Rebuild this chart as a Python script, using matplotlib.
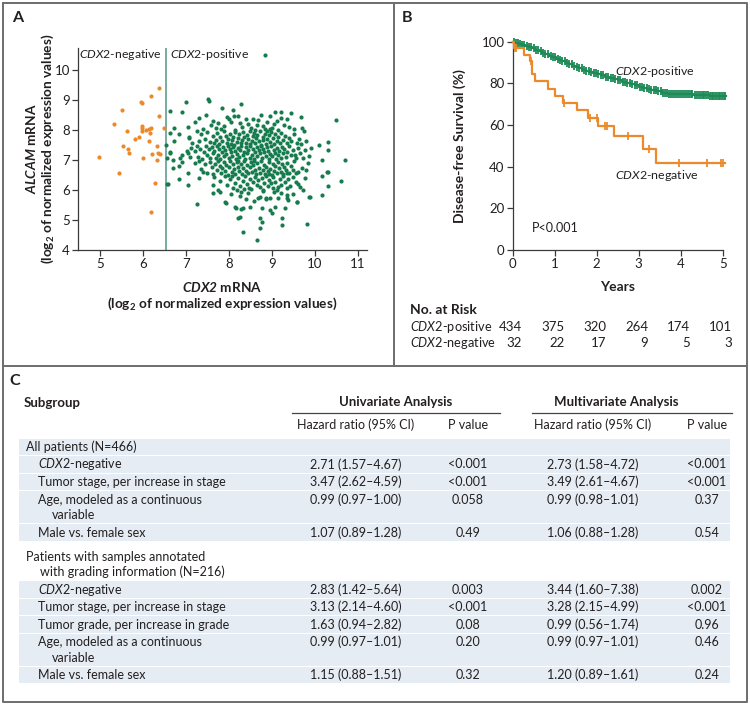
import numpy as np
import matplotlib.pyplot as plt
from matplotlib.patches import Rectangle
from matplotlib.transforms import offset_copy

plt.rcParams['font.family'] = ['Lato', 'DejaVu Sans']
plt.rcParams['mathtext.fontset'] = 'custom'
plt.rcParams['mathtext.rm'] = 'Lato'
plt.rcParams['mathtext.it'] = 'Lato:italic'
plt.rcParams['mathtext.bf'] = 'Lato:bold'
plt.rcParams['mathtext.bfit'] = 'Lato:bold:italic'

# ---- panel A: CDX2 vs ALCAM expression ----
cdx2_cutoff = 6.53

neg_pts = [(6.38, 9.39), (6.18, 9.14), (5.95, 8.94), (5.97, 8.90), (5.52, 8.67), (6.38, 8.48),
           (5.33, 8.21), (5.99, 8.13), (5.97, 8.07), (6.18, 8.06), (6.14, 8.02), (6.08, 8.00),
           (5.62, 7.98), (6.49, 8.05), (5.91, 7.78), (5.81, 7.69), (6.16, 7.89), (6.15, 7.63),
           (6.33, 7.48), (5.54, 7.48), (5.66, 7.37), (5.67, 7.22), (4.99, 7.11), (6.01, 7.06),
           (6.22, 7.20), (6.36, 7.22), (6.40, 7.20), (6.33, 6.99), (5.45, 6.57), (6.28, 6.22),
           (6.20, 5.28), (5.98, 7.95)]

pos_pts = [
    # y >= 8.5
    (8.83, 10.50), (7.52, 9.02), (7.54, 8.97), (7.01, 8.92), (8.29, 8.86), (7.84, 8.72), (8.10, 8.67),
    (6.63, 8.63), (6.90, 8.61), (9.07, 8.59), (9.22, 8.60), (9.45, 8.58), (7.46, 8.50), (8.74, 8.50),
    (8.12, 8.48), (8.21, 8.47), (9.67, 8.44),
    # 8.0 - 8.5
    (8.56, 8.37), (9.34, 8.36), (10.48, 8.33), (7.95, 8.42), (8.95, 8.45), (7.20, 8.25), (7.75, 8.22),
    (8.05, 8.28), (8.45, 8.20), (8.88, 8.25), (9.12, 8.30), (7.62, 8.31), (8.65, 8.18), (7.05, 8.11),
    (7.70, 8.08), (7.88, 8.14), (8.30, 8.10), (8.52, 8.05), (8.78, 8.12), (8.83, 8.02), (9.00, 8.08),
    (9.28, 8.15), (9.70, 8.06), (9.52, 8.03), (8.15, 8.01), (7.40, 8.04), (8.40, 8.38), (9.20, 8.40),
    (8.00, 8.35), (7.30, 8.40), (8.68, 8.32), (9.05, 8.20), (9.40, 8.10), (8.25, 8.22), (7.82, 8.03),
    (8.95, 8.02), (8.60, 8.00), (9.15, 8.00), (7.58, 8.15), (6.72, 8.05),
    # 7.5 - 8.0
    (6.63, 7.91), (6.84, 7.86), (7.08, 7.78), (7.08, 7.72), (6.53, 7.51), (6.73, 7.62), (9.75, 7.95),
    (10.30, 7.61), (10.09, 7.50), (7.25, 7.95), (7.35, 7.85), (7.45, 7.70), (7.50, 7.92), (7.55, 7.60),
    (7.62, 7.80), (7.65, 7.55), (7.70, 7.68), (7.72, 7.90), (7.78, 7.52), (7.80, 7.75), (7.85, 7.62),
    (7.88, 7.95), (7.92, 7.80), (7.95, 7.58), (7.98, 7.70), (8.02, 7.88), (8.05, 7.52), (8.08, 7.65),
    (8.10, 7.78), (8.14, 7.94), (8.18, 7.60), (8.20, 7.72), (8.24, 7.85), (8.28, 7.55), (8.30, 7.66),
    (8.33, 7.92), (8.36, 7.75), (8.40, 7.58), (8.42, 7.84), (8.45, 7.70), (8.48, 7.96), (8.50, 7.52),
    (8.53, 7.64), (8.55, 7.80), (8.58, 7.90), (8.60, 7.56), (8.63, 7.72), (8.66, 7.84), (8.70, 7.62),
    (8.72, 7.95), (8.75, 7.50), (8.78, 7.76), (8.80, 7.66), (8.83, 7.88), (8.86, 7.54), (8.88, 7.70),
    (8.92, 7.82), (8.95, 7.60), (8.98, 7.92), (9.02, 7.72), (9.05, 7.52), (9.08, 7.85), (9.12, 7.64),
    (9.15, 7.78), (9.18, 7.55), (9.22, 7.90), (9.25, 7.68), (9.30, 7.80), (9.35, 7.58), (9.40, 7.72),
    (9.45, 7.62), (9.50, 7.85), (9.58, 7.55), (9.62, 7.70), (9.68, 7.52), (9.80, 7.64), (7.15, 7.55),
    (7.30, 7.62), (8.88, 7.98), (8.12, 7.50),
    # 7.0 - 7.5
    (6.63, 7.27), (6.64, 7.22), (6.70, 7.00), (6.86, 7.06), (6.90, 7.17), (7.05, 7.22), (7.09, 7.11),
    (6.55, 7.05), (10.29, 7.33), (10.69, 7.00), (10.17, 7.00), (9.76, 7.33), (9.71, 7.06), (9.53, 7.17),
    (7.20, 7.30), (7.25, 7.45), (7.28, 7.10), (7.33, 7.38), (7.38, 7.02), (7.42, 7.25), (7.46, 7.48),
    (7.50, 7.15), (7.53, 7.35), (7.57, 7.05), (7.60, 7.42), (7.63, 7.22), (7.66, 7.30), (7.70, 7.08),
    (7.72, 7.46), (7.75, 7.18), (7.78, 7.36), (7.80, 7.02), (7.83, 7.28), (7.86, 7.44), (7.88, 7.12),
    (7.91, 7.32), (7.94, 7.20), (7.97, 7.48), (8.00, 7.05), (8.02, 7.38), (8.05, 7.25), (8.08, 7.12),
    (8.10, 7.44), (8.13, 7.30), (8.16, 7.02), (8.18, 7.20), (8.21, 7.40), (8.24, 7.10), (8.26, 7.34),
    (8.29, 7.48), (8.32, 7.16), (8.34, 7.26), (8.37, 7.04), (8.40, 7.42), (8.42, 7.22), (8.45, 7.32),
    (8.48, 7.08), (8.50, 7.46), (8.53, 7.18), (8.56, 7.36), (8.58, 7.02), (8.61, 7.28), (8.64, 7.44),
    (8.66, 7.12), (8.69, 7.34), (8.72, 7.22), (8.74, 7.48), (8.77, 7.06), (8.80, 7.38), (8.82, 7.26),
    (8.85, 7.14), (8.88, 7.42), (8.90, 7.30), (8.93, 7.04), (8.96, 7.20), (8.98, 7.46), (9.01, 7.12),
    (9.04, 7.34), (9.06, 7.24), (9.09, 7.02), (9.12, 7.40), (9.14, 7.16), (9.17, 7.30), (9.20, 7.08),
    (9.23, 7.44), (9.26, 7.22), (9.29, 7.36), (9.32, 7.10), (9.36, 7.28), (9.40, 7.45), (9.44, 7.15),
    (9.48, 7.32), (9.55, 7.05), (9.60, 7.40), (9.65, 7.22), (9.85, 7.12), (9.90, 7.40), (7.12, 7.40),
    (7.02, 7.30),
    # 6.5 - 7.0
    (6.92, 6.94), (6.70, 6.72), (7.21, 6.89), (7.40, 6.61), (6.85, 6.80), (7.05, 6.55), (10.28, 6.59),
    (10.15, 6.48), (9.84, 6.89), (9.61, 6.61), (9.69, 6.74), (9.80, 6.67), (10.30, 6.61),
    (7.30, 6.95), (7.35, 6.70), (7.45, 6.85), (7.50, 6.58), (7.55, 6.92), (7.60, 6.75), (7.64, 6.52),
    (7.68, 6.88), (7.72, 6.65), (7.75, 6.98), (7.79, 6.80), (7.82, 6.56), (7.85, 6.72), (7.88, 6.94),
    (7.91, 6.62), (7.94, 6.84), (7.97, 6.50), (8.00, 6.76), (8.03, 6.96), (8.06, 6.60), (8.09, 6.86),
    (8.12, 6.70), (8.15, 6.54), (8.18, 6.92), (8.21, 6.78), (8.24, 6.62), (8.27, 6.88), (8.30, 6.52),
    (8.33, 6.72), (8.36, 6.98), (8.39, 6.64), (8.42, 6.84), (8.45, 6.56), (8.48, 6.76), (8.51, 6.94),
    (8.54, 6.60), (8.57, 6.82), (8.60, 6.68), (8.63, 6.52), (8.66, 6.90), (8.69, 6.74), (8.72, 6.58),
    (8.75, 6.96), (8.78, 6.66), (8.81, 6.84), (8.84, 6.54), (8.87, 6.78), (8.90, 6.62), (8.93, 6.92),
    (8.96, 6.70), (8.99, 6.50), (9.02, 6.86), (9.05, 6.64), (9.08, 6.80), (9.11, 6.56), (9.14, 6.94),
    (9.17, 6.72), (9.20, 6.60), (9.23, 6.88), (9.26, 6.52), (9.29, 6.76), (9.32, 6.66), (9.36, 6.90),
    (9.40, 6.58), (9.44, 6.80), (9.48, 6.68), (9.52, 6.95), (9.56, 6.55), (9.35, 6.55), (8.20, 6.98),
    (8.58, 6.98), (8.92, 6.52),
    # 6.0 - 6.5
    (6.59, 6.20), (6.55, 6.21), (6.84, 6.37), (7.04, 6.16), (7.63, 6.17), (7.30, 6.40), (10.61, 6.31),
    (10.30, 6.13), (9.61, 6.19), (9.65, 6.11), (9.71, 6.00), (9.76, 6.39), (8.10, 6.08), (8.18, 6.00),
    (8.64, 6.17), (8.79, 6.00), (9.03, 6.06), (9.11, 6.00), (9.14, 6.11), (8.52, 6.02), (7.80, 6.30),
    (7.90, 6.45), (7.95, 6.15), (8.02, 6.35), (8.08, 6.48), (8.15, 6.22), (8.22, 6.40), (8.26, 6.12),
    (8.32, 6.30), (8.38, 6.46), (8.42, 6.20), (8.46, 6.06), (8.50, 6.36), (8.55, 6.25), (8.60, 6.44),
    (8.68, 6.32), (8.72, 6.10), (8.76, 6.40), (8.82, 6.24), (8.86, 6.46), (8.90, 6.14), (8.94, 6.34),
    (8.98, 6.22), (9.02, 6.42), (9.07, 6.28), (9.18, 6.38), (9.22, 6.18), (9.26, 6.46), (9.30, 6.26),
    (9.38, 6.35), (9.42, 6.12), (9.48, 6.42), (9.55, 6.25), (7.65, 6.42), (8.35, 6.04), (9.34, 6.05),
    # 5.5 - 6.0
    (7.63, 5.89), (7.75, 6.00), (7.79, 5.94), (7.93, 5.58), (7.25, 5.52), (7.90, 5.59), (8.25, 5.80),
    (8.29, 5.94), (8.68, 5.72), (8.72, 5.78), (8.87, 5.72), (8.95, 5.74), (9.14, 5.72), (9.34, 5.72),
    (9.37, 5.67), (9.22, 5.89), (9.34, 5.83), (9.57, 5.61), (9.86, 5.78), (10.15, 5.83), (9.59, 5.59),
    (8.87, 5.69), (8.45, 5.90), (8.58, 5.62), (8.05, 5.85), (9.05, 5.92), (8.40, 5.70), (9.48, 5.85),
    (9.88, 5.78), (8.80, 5.95),
    # 5.0 - 5.5
    (8.14, 5.44), (8.16, 5.41), (8.33, 5.39), (8.48, 5.44), (8.76, 5.41), (9.07, 5.44), (9.30, 5.39),
    (8.29, 5.36), (8.95, 5.33), (8.99, 5.22), (8.21, 5.08), (8.25, 5.11), (8.73, 5.06), (9.24, 5.08),
    # below 5
    (8.77, 4.94), (8.72, 4.72), (8.66, 4.33), (8.33, 4.61), (9.24, 4.83), (9.82, 4.86),
]

# ---- panel B: Kaplan-Meier ----
pos_times = [0.06, 0.14, 0.22, 0.3, 0.38, 0.46, 0.54, 0.62, 0.7, 0.78, 0.86, 0.94, 1.02, 1.1, 1.18,
             1.26, 1.34, 1.42, 1.5, 1.58, 1.66, 1.74, 1.82, 1.9, 2.0, 2.1, 2.2, 2.3, 2.4, 2.5, 2.6,
             2.7, 2.8, 2.9, 3.0, 3.1, 3.2, 3.3, 3.42, 3.55, 3.7, 3.9, 4.3, 4.7]
pos_surv = [99.5, 99.0, 98.5, 98.0, 97.4, 96.8, 96.1, 95.4, 94.7, 94.0, 93.3, 92.6, 91.9, 91.2, 90.5,
            89.8, 89.1, 88.4, 87.8, 87.2, 86.6, 86.0, 85.5, 85.0, 84.4, 83.8, 83.2, 82.6, 82.0, 81.4,
            80.8, 80.2, 79.6, 79.0, 78.4, 77.8, 77.3, 76.8, 76.2, 75.6, 75.1, 74.7, 74.3, 74.0]
pos_censor = [0.03, 0.08, 0.12, 0.17, 0.22, 0.27, 0.33, 0.38, 0.44, 0.5, 0.56, 0.61, 0.67, 0.72, 0.78,
              0.84, 0.9, 0.95, 1.01, 1.07, 1.12, 1.18, 1.24, 1.3, 1.35, 1.41, 1.47, 1.52, 1.58, 1.64,
              1.7, 1.75, 1.81, 1.87, 1.93, 1.98, 2.04, 2.1, 2.16, 2.21, 2.27, 2.33, 2.39, 2.44, 2.5,
              2.56, 2.62, 2.68, 2.73, 2.79, 2.85, 2.9, 2.96, 3.02, 3.08, 3.13, 3.19, 3.25, 3.3, 3.36,
              3.41, 3.46, 3.52, 3.57, 3.62, 3.67, 3.72, 3.76, 3.81, 3.86, 3.9, 3.95, 4.0, 4.05, 4.1,
              4.15, 4.2, 4.24, 4.28, 4.33, 4.38, 4.43, 4.48, 4.52, 4.56, 4.6, 4.65, 4.7, 4.74, 4.78,
              4.82, 4.86, 4.9, 4.94, 4.98, 5.02, 5.06]
pos_end = 5.08

neg_times = [0.02, 0.27, 0.41, 0.47, 0.52, 0.85, 1.0, 1.19, 1.52, 1.8, 2.03, 2.4, 3.1, 3.42]
neg_surv = [97.0, 93.8, 90.6, 84.4, 81.0, 77.4, 74.0, 70.6, 67.0, 63.4, 59.6, 54.6, 48.6, 41.6]
neg_censor = [0.05, 0.09, 0.44, 1.23, 1.84, 2.01, 2.2, 2.24, 2.75, 3.25, 3.97, 4.62, 4.95, 5.0]
neg_end = 5.05

risk_years = [0, 1, 2, 3, 4, 5]
risk_pos = [434, 375, 320, 264, 174, 101]
risk_neg = [32, 22, 17, 9, 5, 3]

# ---- panel C: Cox table ----
row_labels = [('All patients (N=466)',), ('$\\mathit{CDX2}$-negative',),
              ('Tumor stage, per increase in stage',), ('Age, modeled as a continuous', 'variable'),
              ('Male vs. female sex',),
              ('Patients with samples annotated', 'with grading information (N=216)'),
              ('$\\mathit{CDX2}$-negative',), ('Tumor stage, per increase in stage',),
              ('Tumor grade, per increase in grade',), ('Age, modeled as a continuous', 'variable'),
              ('Male vs. female sex',)]
row_is_group = [True, False, False, False, False, True, False, False, False, False, False]
uni_hr = ['', '2.71 (1.57\u20134.67)', '3.47 (2.62\u20134.59)', '0.99 (0.97\u20131.00)', '1.07 (0.89\u20131.28)',
          '', '2.83 (1.42\u20135.64)', '3.13 (2.14\u20134.60)', '1.63 (0.94\u20132.82)', '0.99 (0.97\u20131.01)',
          '1.15 (0.88\u20131.51)']
uni_p = ['', '<0.001', '<0.001', '0.058', '0.49', '', '0.003', '<0.001', '0.08', '0.20', '0.32']
multi_hr = ['', '2.73 (1.58\u20134.72)', '3.49 (2.61\u20134.67)', '0.99 (0.98\u20131.01)', '1.06 (0.88\u20131.28)',
            '', '3.44 (1.60\u20137.38)', '3.28 (2.15\u20134.99)', '0.99 (0.56\u20131.74)', '0.99 (0.97\u20131.01)',
            '1.20 (0.89\u20131.61)']
multi_p = ['', '<0.001', '<0.001', '0.37', '0.54', '', '0.002', '<0.001', '0.96', '0.46', '0.24']

green = '#177c4d'
green_km = '#1d8a57'
orange = '#ec8a2b'
ink = '#231f20'
frame = '#6d6d6d'
shade = '#e5ecf3'

W, H = 750, 706
fig = plt.figure(figsize=(W / 100, H / 100), dpi=100)


def box(left, top, right, bottom):
    return [left / W, 1 - bottom / H, (right - left) / W, (bottom - top) / H]


# overlay in pixel coordinates for frames, labels and the table
ov = fig.add_axes([0, 0, 1, 1])
ov.set_xlim(0, W)
ov.set_ylim(H, 0)
ov.axis('off')
ov.plot([3, 747, 747, 3, 3], [3, 3, 702, 702, 3], color=frame, lw=1.4)
ov.plot([3, 747], [366, 366], color=frame, lw=1.4)
ov.plot([394, 394], [3, 366], color=frame, lw=1.4)

ov.text(12, 18, 'A', fontsize=11.5, fontweight='bold', va='center', color=ink)
ov.text(402, 18, 'B', fontsize=11.5, fontweight='bold', va='center', color=ink)
ov.text(9, 381, 'C', fontsize=11.5, fontweight='bold', va='center', color=ink)

# ---- panel A ----
axA = fig.add_axes(box(78.3, 48.3, 366.7, 250))
neg = np.array(neg_pts)
pos = np.array(pos_pts)
axA.scatter(neg[:, 0], neg[:, 1], s=9, color=orange, lw=0, zorder=3)
axA.scatter(pos[:, 0], pos[:, 1], s=9, color=green, lw=0, zorder=3)
axA.axvline(cdx2_cutoff, color='#5f9f8f', lw=1.2, zorder=2)
axA.set_xlim(4.5, 11.2)
axA.set_ylim(4, 10.72)
axA.set_xticks(range(5, 12))
axA.set_yticks(range(4, 11))
axA.text(6.44, 10.52, '$\\mathit{CDX2}$-negative', ha='right', va='center', fontsize=8.8, color=ink)
axA.text(6.64, 10.52, '$\\mathit{CDX2}$-positive', ha='left', va='center', fontsize=8.8, color=ink)

ov.text(222.5, 287, '$\\mathbfit{CDX2}$ mRNA', ha='center', va='center', fontsize=9.8,
        fontweight='bold', color=ink)
ov.text(222.5, 304, '(log$_\\mathbf{2}$ of normalized expression values)', ha='center', va='center',
        fontsize=9.8, fontweight='bold', color=ink)
ov.text(31, 149, '$\\mathbfit{ALCAM}$ mRNA', ha='center', va='center', rotation=90, fontsize=9.8,
        fontweight='bold', color=ink)
ov.text(47.5, 149, '(log$_\\mathbf{2}$ of normalized expression values)', ha='center', va='center',
        rotation=90, fontsize=9.8, fontweight='bold', color=ink)

# ---- panel B ----
axB = fig.add_axes(box(512.7, 41.7, 726.9, 250))
axB.set_xlim(0, 5.1)
axB.set_ylim(0, 100)
axB.spines['bottom'].set_bounds(0, 5)
axB.set_xticks(risk_years)
axB.set_yticks([0, 20, 40, 60, 80, 100])


def km_curve(ax, times, surv, censor, end, color):
    t = np.r_[0, times, end]
    s = np.r_[100, surv, surv[-1]]
    ax.step(t, s, where='post', color=color, lw=1.6, clip_on=False, zorder=3)
    ct = np.array(censor)
    idx = np.searchsorted(t, ct, side='right') - 1
    ax.plot(ct, s[idx], ls='none', marker='|', ms=6, mew=1.3, color=color, clip_on=False, zorder=3)


km_curve(axB, pos_times, pos_surv, pos_censor, pos_end, green_km)
km_curve(axB, neg_times, neg_surv, neg_censor, neg_end, orange)

axB.text(2.44, 85.5, '$\\mathit{CDX2}$-positive', ha='left', va='center', fontsize=8.9, color=ink)
axB.text(2.44, 36, '$\\mathit{CDX2}$-negative', ha='left', va='center', fontsize=8.9, color=ink)
axB.text(0.45, 10.6, 'P<0.001', ha='left', va='center', fontsize=9, color=ink)

ov.text(617.7, 287, 'Years', ha='center', va='center', fontsize=10, fontweight='bold', color=ink)
ov.text(460, 146, 'Disease-free Survival (%)', ha='center', va='center', rotation=90,
        fontsize=10, fontweight='bold', color=ink)
ov.text(410, 310, 'No. at Risk', ha='left', va='center', fontsize=10, fontweight='bold', color=ink)
ov.text(410, 327, '$\\mathit{CDX2}$-positive', ha='left', va='center', fontsize=9.2, color=ink)
ov.text(410, 343, '$\\mathit{CDX2}$-negative', ha='left', va='center', fontsize=9.2, color=ink)

risk_tr = offset_copy(axB.get_xaxis_transform(), fig=fig, x=9.5, y=0, units='dots')
for yr, n_pos, n_neg in zip(risk_years, risk_pos, risk_neg):
    axB.text(yr, -0.370, str(n_pos), transform=risk_tr, ha='right', va='center', fontsize=9.5,
             color=ink, clip_on=False)
    axB.text(yr, -0.447, str(n_neg), transform=risk_tr, ha='right', va='center', fontsize=9.5,
             color=ink, clip_on=False)

for ax in (axA, axB):
    for side in ('top', 'right'):
        ax.spines[side].set_visible(False)
    for side in ('left', 'bottom'):
        ax.spines[side].set_color('#3a3a3a')
        ax.spines[side].set_linewidth(0.9)
    ax.tick_params(direction='out', length=4, width=0.9, color='#3a3a3a', labelsize=9.5,
                   labelcolor=ink, pad=2)
    ax.set_facecolor('none')

# ---- panel C table ----
tfs = 9
ov.text(24, 403, 'Subgroup', ha='left', va='center', fontsize=9.5, fontweight='bold', color=ink)
ov.text(396, 402, 'Univariate Analysis', ha='center', va='center', fontsize=9.5, fontweight='bold', color=ink)
ov.text(616, 402, 'Multivariate Analysis', ha='center', va='center', fontsize=9.5, fontweight='bold', color=ink)
ov.plot([292, 500], [413, 413], color='#444444', lw=0.9)
ov.plot([532, 732], [413, 413], color='#444444', lw=0.9)
col_x = [356, 468, 593, 707]
for cx, hdr in zip(col_x, ['Hazard ratio (95% CI)', 'P value', 'Hazard ratio (95% CI)', 'P value']):
    ov.text(cx, 425, hdr, ha='center', va='center', fontsize=tfs, color=ink)

single_h, line_h, group_gap = 17.5, 15.5, 6.5
y = 447
for i, lines in enumerate(row_labels):
    if i == 5:
        y += group_gap
    top = y - 8.2
    bottom = y + (len(lines) - 1) * line_h + 8.2
    if not row_is_group[i] or i == 0:
        ov.add_patch(Rectangle((19, top), 711, bottom - top, color=shade, lw=0, zorder=0))
    x0 = 26 if row_is_group[i] else 38
    for k, txt in enumerate(lines):
        ov.text(x0 + (14 if k else 0), y + k * line_h, txt, ha='left', va='center', fontsize=tfs, color=ink)
    for cx, val in zip(col_x, [uni_hr[i], uni_p[i], multi_hr[i], multi_p[i]]):
        if val:
            ov.text(cx, y, val, ha='center', va='center', fontsize=tfs, color=ink)
    y = bottom + 8.2 + 1.1

fig.savefig('out.png', dpi=100)
